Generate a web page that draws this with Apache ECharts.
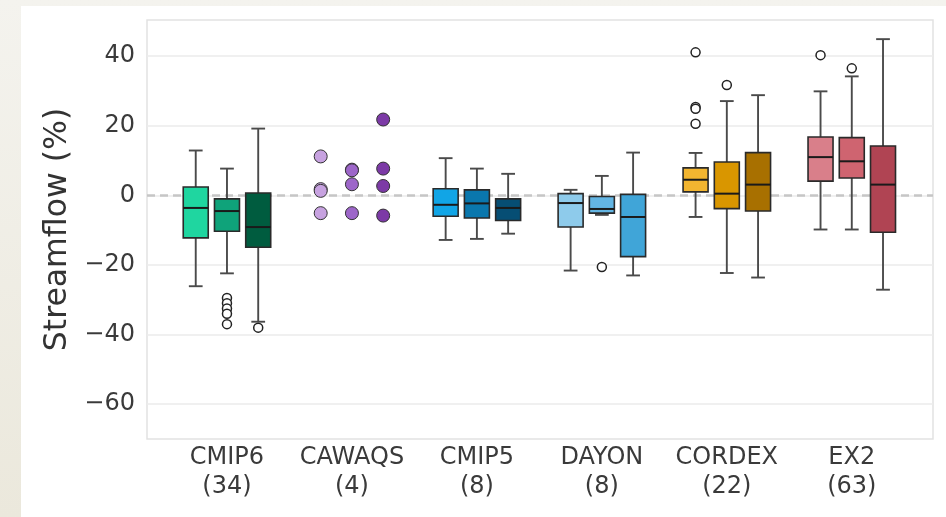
<!DOCTYPE html>
<html>
<head>
<meta charset="utf-8">
<script src="https://cdn.jsdelivr.net/npm/echarts@6/dist/echarts.min.js"></script>
<style>
  html, body { margin: 0; padding: 0; }
  body { width: 946px; height: 517px; overflow: hidden; position: relative;
         background: linear-gradient(to bottom, #f4f3ee, #ebe8dc); }
  #panel { position: absolute; left: 21px; top: 6px; width: 925px; height: 511px; background: #ffffff; }
  #chart { position: absolute; left: 0; top: 0; width: 946px; height: 517px; }
</style>
</head>
<body>
<div id="panel"></div>
<div id="chart"></div>
<script>
// ---------- data ----------
const categories = ['CMIP6', 'CAWAQS', 'CMIP5', 'DAYON', 'CORDEX', 'EX2'];
const counts = [34, 4, 8, 8, 22, 63];
const yTicks = [-60, -40, -20, 0, 20, 40];

// box stats per sub-box: [lower whisker, Q1, median, Q3, upper whisker]
const cmip6Boxes = [[-26.1, -12.2, -3.6, 2.4, 12.9], [-22.4, -10.3, -4.5, -1.0, 7.7], [-36.3, -14.9, -9.1, 0.7, 19.2]];
const cmip6Outliers = [[], [-29.5, -31.0, -32.5, -34.0, -37.0], [-38.0]];

const cawaqsPoints = [[11.2, 1.8, 1.3, -5.1], [7.4, 7.2, 3.2, -5.1], [21.8, 7.7, 2.7, -5.8]];

const cmip5Boxes = [[-12.8, -6.0, -2.7, 1.9, 10.7], [-12.5, -6.5, -2.3, 1.6, 7.7], [-11.0, -7.2, -3.6, -1.0, 6.2]];
const cmip5Outliers = [[], [], []];

const dayonBoxes = [[-21.6, -9.1, -2.2, 0.5, 1.6], [-5.6, -5.1, -3.9, -0.3, 5.6], [-23.0, -17.6, -6.2, 0.3, 12.3]];
const dayonOutliers = [[], [-20.6], []];

const cordexBoxes = [[-6.2, 1.0, 4.5, 7.9, 12.2], [-22.3, -3.8, 0.5, 9.6, 27.1], [-23.6, -4.5, 3.1, 12.3, 28.8]];
const cordexOutliers = [[41.1, 25.4, 24.9, 20.6], [31.7], []];

const ex2Boxes = [[-9.8, 4.1, 11.0, 16.8, 29.9], [-9.8, 5.0, 9.8, 16.6, 34.2], [-27.1, -10.6, 3.1, 14.2, 44.9]];
const ex2Outliers = [[40.3], [36.5], []];

// ---------- styles ----------
const palette = [
  ['#1fd6a0', '#0fa37a', '#005c3f'],
  ['#c7a2e0', '#9d66c9', '#7c3aa6'],
  ['#11a5e6', '#0a77ad', '#064e74'],
  ['#8ecbeb', '#63b5e3', '#40a5d8'],
  ['#f2b530', '#d99600', '#a87000'],
  ['#d97f8a', '#cf6470', '#b04453']
];
const SUB_STEP = 0.25;   // offset between sub-boxes (category units)
const BOX_W = 0.2;       // box width (category units)
const CAP_W = 0.11;      // whisker cap width (category units)
const FONT = 'DejaVu Sans';

// ---------- build series data ----------
const boxGroups = [[0, cmip6Boxes], [2, cmip5Boxes], [3, dayonBoxes], [4, cordexBoxes], [5, ex2Boxes]];
const outlierGroups = [[0, cmip6Outliers], [2, cmip5Outliers], [3, dayonOutliers], [4, cordexOutliers], [5, ex2Outliers]];

const boxData = [];
boxGroups.forEach(([g, boxes]) => boxes.forEach((b, s) => boxData.push([g, s].concat(b))));
const outlierData = [];
outlierGroups.forEach(([g, outs]) => outs.forEach((arr, s) => arr.forEach(v => outlierData.push([g, s, v]))));
const pointData = [];
cawaqsPoints.forEach((arr, s) => arr.forEach(v => pointData.push([1, s, v])));

function subX(api) { return api.value(0) + (api.value(1) - 1) * SUB_STEP; }

function renderBox(params, api) {
  const g = api.value(0), s = api.value(1);
  const x = subX(api);
  const lo = api.coord([x, api.value(2)]);
  const q1 = api.coord([x, api.value(3)]);
  const md = api.coord([x, api.value(4)]);
  const q3 = api.coord([x, api.value(5)]);
  const hi = api.coord([x, api.value(6)]);
  const bw = api.size([BOX_W, 0])[0];
  const cw = api.size([CAP_W, 0])[0];
  const wStyle = { stroke: '#4a4a4a', lineWidth: 1.9 };
  return {
    type: 'group',
    children: [
      { type: 'line', shape: { x1: lo[0], y1: lo[1], x2: q1[0], y2: q1[1] }, style: wStyle },
      { type: 'line', shape: { x1: q3[0], y1: q3[1], x2: hi[0], y2: hi[1] }, style: wStyle },
      { type: 'line', shape: { x1: lo[0] - cw / 2, y1: lo[1], x2: lo[0] + cw / 2, y2: lo[1] }, style: wStyle },
      { type: 'line', shape: { x1: hi[0] - cw / 2, y1: hi[1], x2: hi[0] + cw / 2, y2: hi[1] }, style: wStyle },
      { type: 'rect', shape: { x: q3[0] - bw / 2, y: q3[1], width: bw, height: q1[1] - q3[1] },
        style: { fill: palette[g][s], stroke: '#2a2a2a', lineWidth: 1.6 } },
      { type: 'line', shape: { x1: md[0] - bw / 2, y1: md[1], x2: md[0] + bw / 2, y2: md[1] },
        style: { stroke: '#1a1a1a', lineWidth: 2 } }
    ]
  };
}

function renderOutlier(params, api) {
  const p = api.coord([subX(api), api.value(2)]);
  return { type: 'circle', shape: { cx: p[0], cy: p[1], r: 4.5 },
           style: { fill: '#ffffff', stroke: '#222222', lineWidth: 1.5 } };
}

function renderPoint(params, api) {
  const s = api.value(1);
  const p = api.coord([subX(api), api.value(2)]);
  return { type: 'circle', shape: { cx: p[0], cy: p[1], r: 6.5 },
           style: { fill: palette[1][s], stroke: '#333333', lineWidth: 1 } };
}

const chart = echarts.init(document.getElementById('chart'), null, { renderer: 'canvas' });
chart.setOption({
  animation: false,
  backgroundColor: 'transparent',
  grid: {
    left: 147, right: 13, top: 20, bottom: 78,
    show: true, backgroundColor: '#ffffff', borderColor: '#e2e2e2', borderWidth: 1.5,
    containLabel: false
  },
  xAxis: {
    type: 'value', min: -0.64, max: 5.65,
    axisLine: { show: false }, axisTick: { show: false, customValues: [0, 1, 2, 3, 4, 5] },
    splitLine: { show: false },
    axisLabel: {
      customValues: [0, 1, 2, 3, 4, 5],
      formatter: v => categories[Math.round(v)] + '\n(' + counts[Math.round(v)] + ')',
      fontFamily: FONT, fontSize: 24, color: '#3a3a3a', lineHeight: 29, margin: 4
    }
  },
  yAxis: {
    type: 'value', min: -70, max: 50.4,
    name: 'Streamflow (%)', nameLocation: 'middle', nameGap: 73,
    nameTextStyle: { fontFamily: FONT, fontSize: 31.5, color: '#333333' },
    axisLine: { show: false },
    axisTick: { show: false, customValues: yTicks },
    axisLabel: {
      customValues: yTicks,
      formatter: v => String(v).replace('-', '\u2212'),
      fontFamily: FONT, fontSize: 24, color: '#3a3a3a', margin: 12
    },
    splitLine: { show: true, lineStyle: { color: '#ebebeb', width: 1.5 } }
  },
  series: [
    {
      type: 'line', data: [], silent: true, z: 1,
      markLine: {
        silent: true, z: 1, symbol: ['none', 'none'], label: { show: false },
        lineStyle: { color: '#c6c6c6', width: 2.5, type: [8, 5] },
        data: [{ yAxis: 0 }]
      }
    },
    { type: 'custom', name: 'boxes', data: boxData, renderItem: renderBox, z: 3,
      encode: { x: 0, y: [2, 3, 4, 5, 6] } },
    { type: 'custom', name: 'outliers', data: outlierData, renderItem: renderOutlier, z: 4,
      encode: { x: 0, y: 2 } },
    { type: 'custom', name: 'CAWAQS', data: pointData, renderItem: renderPoint, z: 4,
      encode: { x: 0, y: 2 } }
  ]
});
</script>
</body>
</html>
